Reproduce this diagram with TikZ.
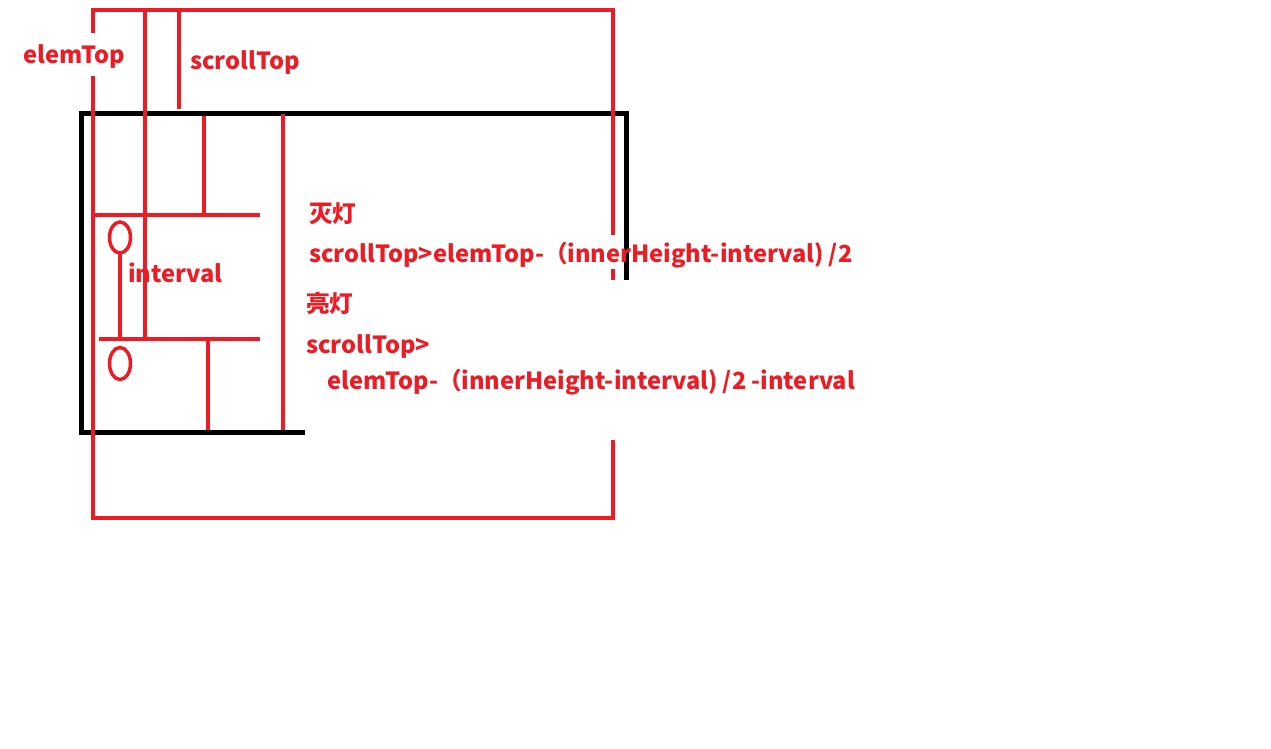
\documentclass[tikz,border=0pt]{standalone}
\usepackage{fontspec}
\setmainfont{Noto Sans CJK SC}
\definecolor{pred}{HTML}{ED1C24}
\begin{document}
\begin{tikzpicture}[x=1pt,y=-1pt,
  rl/.style={draw=pred,line width=4.5pt},
  bl/.style={draw=black,line width=5pt},
  lbl/.style={text=pred,font=\bfseries\fontsize{23.6}{28}\selectfont,inner sep=0pt,anchor=base west}]
\useasboundingbox[fill=white] (0,0) rectangle (1271,749);
% black frame
\draw[bl] (626,280) -- (626,114) -- (81,114) -- (81,432) -- (305,432);
% red outer frame
\draw[rl] (93,33) -- (93,10) -- (613,10) -- (613,235);
\draw[rl] (613,269) -- (613,280);
\draw[rl] (613,440) -- (613,518) -- (93,518) -- (93,76);
% inner red lines
\draw[rl] (145,12) -- (145,339);
\draw[rl] (179,12) -- (179,109);
\draw[rl] (204,116) -- (204,215);
\draw[rl] (283,114) -- (283,430);
\draw[rl] (93,215) -- (260,215);
\draw[rl] (99,339) -- (260,339);
\draw[rl] (208,339) -- (208,430);
\draw[rl] (120,253) -- (120,339);
\draw[draw=pred,line width=3.5pt] (120,237.5) ellipse [x radius=10.5, y radius=15.5];
\draw[draw=pred,line width=3.5pt] (120,363.5) ellipse [x radius=10.5, y radius=16];
% texts
\node[lbl] (elemtop) at (23,64) {elemTop};
\node[lbl] (scrolltop) at (190,70) {scrollTop};
\node[lbl] (interval) at (128,282) {interval};
\node[lbl] (off) at (309,222) {灭灯};
\node[lbl] (offf) at (309,262) {scrollTop>elemTop-（innerHeight-interval) /2};
\node[lbl] (on) at (306,312) {亮灯};
\node[lbl] (onf1) at (306,353) {scrollTop>};
\node[lbl] (onf2) at (327,389) {elemTop-（innerHeight-interval) /2 -interval};
\end{tikzpicture}
\end{document}
